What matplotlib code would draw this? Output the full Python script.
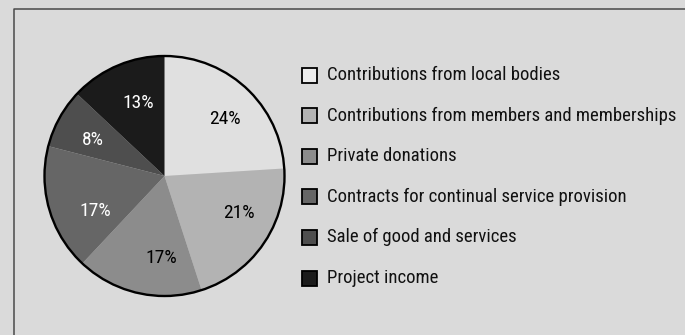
import numpy as np
import matplotlib
matplotlib.use("Agg")
import matplotlib.pyplot as plt
from matplotlib.patches import Rectangle, Circle

categories = [
    "Contributions from local bodies",
    "Contributions from members and memberships",
    "Private donations",
    "Contracts for continual service provision",
    "Sale of good and services",
    "Project income",
]
shares = [24, 21, 17, 17, 8, 13]

slice_colors = ["#e0e0e0", "#b3b3b3", "#8c8c8c", "#666666", "#4e4e4e", "#1b1b1b"]
legend_colors = ["#ececec", "#b3b3b3", "#8c8c8c", "#666666", "#4e4e4e", "#1b1b1b"]
label_colors = ["black", "black", "black", "white", "white", "white"]
# small angular nudges (deg) and radial positions (fraction of radius) for the percent labels
label_nudge = [-3.5, 7.8, 10.6, 10.5, 2.0, -3.4]
label_dist = [0.69, 0.69, 0.68, 0.65, 0.67, 0.65]

BG = "#dadada"
FONT = ["Roboto Condensed", "DejaVu Sans"]

W, H = 685, 335
fig = plt.figure(figsize=(W / 100, H / 100), dpi=100, facecolor=BG)
ax = fig.add_axes([0, 0, 1, 1])
ax.set_facecolor(BG)

cx, cy, r = 164.5, H - 176, 120
wedges, _ = ax.pie(shares, colors=slice_colors, startangle=90, counterclock=False,
                   center=(cx, cy), radius=r, frame=True,
                   wedgeprops=dict(linewidth=0))
ax.add_patch(Circle((cx, cy), r, fill=False, edgecolor="black", linewidth=1.7, zorder=3))

for w, v, col, nd, dist in zip(wedges, shares, label_colors, label_nudge, label_dist):
    ang = np.deg2rad((w.theta1 + w.theta2) / 2 + nd)
    ax.text(cx + dist * r * np.cos(ang), cy + dist * r * np.sin(ang), f"{v}%",
            ha="center", va="center", color=col, fontsize=14, family=FONT, zorder=4)

# legend
for i, (lab, col) in enumerate(zip(categories, legend_colors)):
    y = H - (75 + i * 40.6)
    ax.add_patch(Rectangle((302, y - 7.5), 15, 15, facecolor=col, edgecolor="black",
                           linewidth=1.3, zorder=3))
    ax.text(327, y, lab, ha="left", va="center", fontsize=13.5, family=FONT,
            color="#111111")

# frame lines (top and left)
ax.plot([14, 14, W], [0, H - 9, H - 9], color="#4a4a4a", linewidth=1.1, solid_capstyle="butt")

ax.set_xlim(0, W)
ax.set_ylim(0, H)
ax.set_aspect("equal")
ax.axis("off")

fig.savefig("out.png", dpi=100, facecolor=BG)
